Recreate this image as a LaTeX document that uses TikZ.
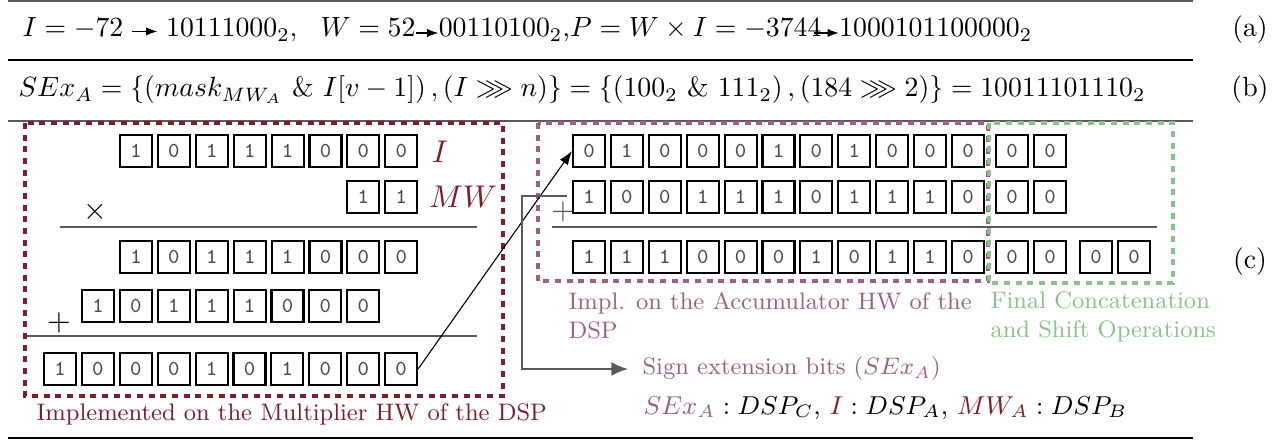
\RequirePackage{fix-cm}
\documentclass[tikz,border=0pt]{standalone}
\usepackage{amsmath,amssymb}
\usetikzlibrary{arrows.meta}
\definecolor{mulred}{RGB}{125,30,40}
\definecolor{accpurple}{RGB}{150,98,140}
\definecolor{catgreen}{RGB}{140,192,140}
\begin{document}
\begin{tikzpicture}[x=0.36pt,y=-0.36pt,
	bit/.style={draw,line width=0.75pt,minimum size=11.5pt,inner sep=0pt,text=black!70,font=\fontsize{7.7}{8}\selectfont\ttfamily},
	hwbox/.style={line width=1.2pt,dash pattern=on 2.2pt off 2pt},
	lbl/.style={inner sep=0pt,anchor=west,align=left,font=\fontsize{8.6}{10.4}\selectfont},
	eq/.style={inner sep=0pt,anchor=base west},
	tip/.style={-{Latex[length=4pt,width=3pt]}}]
	\useasboundingbox (0,0) rectangle (1281,443);
	% rules
	\draw[line width=0.7pt,black!65] (8,1)--(1193,1);
	\draw[line width=0.6pt] (8,60)--(1193,60);
	\draw[line width=0.7pt,black!65] (8,121)--(1193,121);
	\draw[line width=0.6pt] (8,438)--(1193,438);
	% (a)
	\node[eq] (ia) at (22,37) {$I=-72$};
	\node[eq] (ib) at ([xshift=15pt]ia.base east) {$10111000_2,\ \ W=52$};
	\node[eq] (wb) at ([xshift=8pt]ib.base east) {$00110100_2$,$P=W\times I=-3744$};
	\node[eq] (pb) at ([xshift=6pt]wb.base east) {$1000101100000_2$};
	\draw[tip] ([xshift=3pt,yshift=-1pt]ia.east) -- ([xshift=-3pt,yshift=-1pt]ib.west |- ia.east);
	\draw[tip] ([yshift=-1pt]ib.east) -- ([yshift=-1pt]wb.west |- ib.east);
	\draw[tip] ([xshift=-3pt,yshift=-1pt]wb.east) -- ([yshift=-1pt]pb.west |- wb.east);
	% (b)
	\node[eq] (sexa) at (18,97) {$SEx_A=\{(mask_{MW_A}\ \&\ I[v-1])\,,(I\ggg n)\}=\{(100_2\ \&\ 111_2)\,,(184\ggg 2)\}=10011101110_2$};
	\node (la) at (1250,30) {(a)};
	\node (lb) at (1250,90) {(b)};
	\node (lc) at (1250,262) {(c)};
	% multiplier part
	\foreach \b [count=\k from 0] in {1,0,1,1,1,0,0,0} \node[bit] (i\k) at (136+37.9*\k,151) {\b};
	\foreach \b [count=\k from 6] in {1,1} \node[bit] (mw\k) at (136+37.9*\k,197) {\b};
	\foreach \b [count=\k from 0] in {1,0,1,1,1,0,0,0} \node[bit] (pa\k) at (136+37.9*\k,257) {\b};
	\foreach \b [count=\k from 0] in {1,0,1,1,1,0,0,0} \node[bit] (pb\k) at (98+37.9*\k,306) {\b};
	\foreach \b [count=\k from 0] in {1,0,0,0,1,0,1,0,0,0} \node[bit] (p\k) at (60+37.9*\k,369) {\b};
	\node[text=mulred,font=\fontsize{11.3}{12}\selectfont] (ilbl) at (440,152) {$I$};
	\node[text=mulred,font=\fontsize{11.3}{12}\selectfont] (mwlbl) at (463,197) {$MW$};
	\node[font=\fontsize{11}{12}\selectfont] (times) at (95,212) {$\times$};
	\node[font=\fontsize{11}{12}\selectfont] (plus) at (59,323) {$+$};
	\draw[black!65] (60,227)--(477,227);
	\draw[black!65] (23,336)--(477,336);
	\draw[hwbox,mulred] (25,123) rectangle (503,396);
	\node[lbl,text=mulred] (mullbl) at (36,414) {Implemented on the Multiplier HW of the DSP};
	% accumulator part
	\foreach \b [count=\k from 0] in {0,1,0,0,0,1,0,1,0,0,0} \node[bit] (a\k) at (589+37.9*\k,151) {\b};
	\foreach \b [count=\k from 0] in {1,0,0,1,1,1,0,1,1,1,0} \node[bit] (s\k) at (589+37.9*\k,197) {\b};
	\foreach \b [count=\k from 0] in {1,1,1,0,0,0,1,0,1,1,0} \node[bit] (r\k) at (589+37.9*\k,257) {\b};
	\foreach \y/\n in {151/ca,197/cs,257/cr} {
		\node[bit] (\n0) at (1012,\y) {0};
		\node[bit] (\n1) at (1050,\y) {0};
	}
	\node[bit] (cr2) at (1096,257) {0};
	\node[bit] (cr3) at (1134,257) {0};
	\node[text=black!65,font=\fontsize{11}{12}\selectfont] (accplus) at (563,212) {$+$};
	\draw[black!65] (552,227)--(1157,227);
	\draw[hwbox,accpurple] (538,123) rectangle (988,281);
	\draw[hwbox,catgreen] (989,123) rectangle (1173,283);
	\node[lbl,text=accpurple,anchor=north west] (acclbl) at (568,292) {Impl. on the Accumulator HW of the\\DSP};
	\node[lbl,text=catgreen,anchor=north west] (catlbl) at (990,291) {Final Concatenation\\and Shift Operations};
	% product into accumulator
	\draw[-{Latex[length=5pt,width=3.5pt]},line width=0.4pt] (p9.east) -- (a0.west);
	% sign extension
	\node[lbl,text=accpurple] (sx) at (642,369) {Sign extension bits ($SEx_A$)};
	\node[lbl,font=\fontsize{9.3}{11}\selectfont] (dspmap) at (643,408) {$\textcolor{accpurple}{SEx_A}:DSP_C$, $\textcolor{mulred}{I}:DSP_A$, $\textcolor{mulred}{MW_A}:DSP_B$};
	\coordinate (sxtop) at (567,196);
	\draw[black!65,line width=0.8pt,-{Latex[length=6pt,width=5pt]}] (sxtop) -- (522,196) |- ([xshift=-5pt]sx.west);
\end{tikzpicture}
\end{document}
